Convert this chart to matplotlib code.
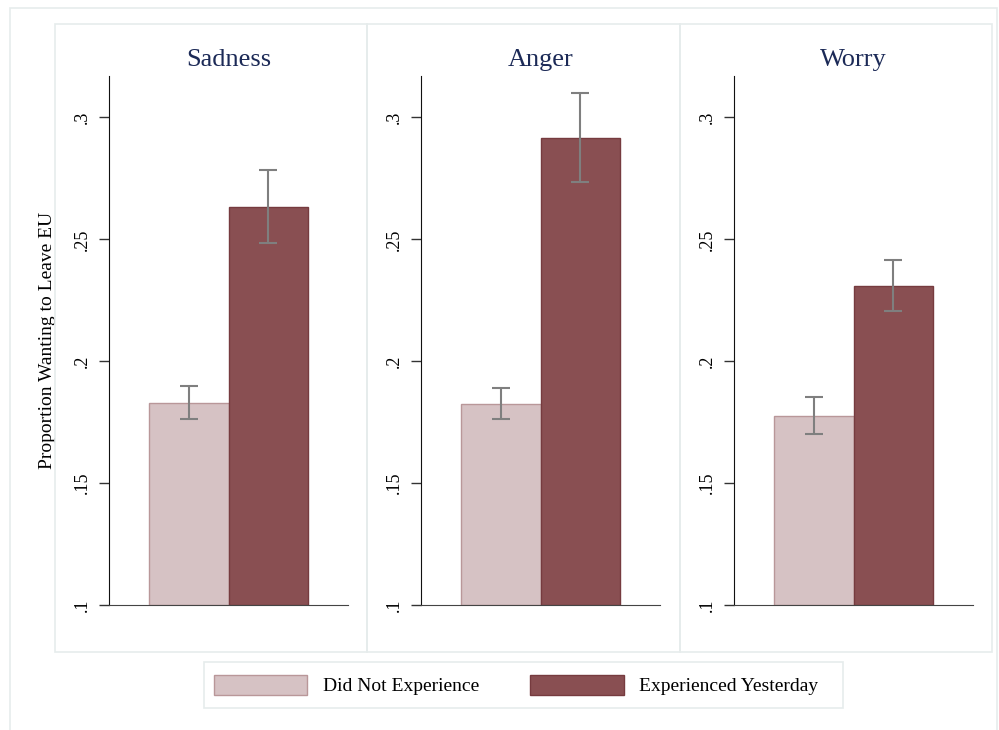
import numpy as np
import matplotlib
matplotlib.use("Agg")
import matplotlib.pyplot as plt
from matplotlib.patches import Rectangle

plt.rcParams['font.family'] = ['Liberation Serif', 'DejaVu Serif']

# data
emotions = ['Sadness', 'Anger', 'Worry']
not_exp = [0.183, 0.1825, 0.1776]
not_exp_lo = [0.1764, 0.1764, 0.1702]
not_exp_hi = [0.1900, 0.1890, 0.1854]
exp_yest = [0.2634, 0.2914, 0.2310]
exp_lo = [0.2483, 0.2737, 0.2207]
exp_hi = [0.2786, 0.3099, 0.2417]
series_labels = ['Did Not Experience', 'Experienced Yesterday']
yticks = [0.1, 0.15, 0.2, 0.25, 0.3]
ytick_labels = ['.1', '.15', '.2', '.25', '.3']

light_fc, light_ec = '#d6c2c4', '#b99799'
dark_fc, dark_ec = '#894f52', '#763b3f'
err_col = '#7f7f7f'
frame_col = '#e6ecec'

W, H = 999, 730
fig = plt.figure(figsize=(W / 100, H / 100), dpi=100)

def px_rect(x0, y0, x1, y1, **kw):
    # rectangle given in image pixel coords (y downwards)
    r = Rectangle((x0 / W, 1 - y1 / H), (x1 - x0) / W, (y1 - y0) / H,
                  transform=fig.transFigure, fill=False, **kw)
    fig.add_artist(r)

# outer frame, panel boxes, legend box
px_rect(10, 8, 997, 740, edgecolor=frame_col, linewidth=1.2)
for x0, x1 in [(55, 367), (367, 680), (680, 992)]:
    px_rect(x0, 24, x1, 652, edgecolor=frame_col, linewidth=1.2)
px_rect(204, 662, 843, 708, edgecolor=frame_col, linewidth=1.2)

lefts = [109, 421, 734]
handles = None
for i, name in enumerate(emotions):
    ax = fig.add_axes([lefts[i] / W, (H - 605) / H, 239 / W, (605 - 76) / H])
    ax.set_facecolor('none')
    b1 = ax.bar(-0.5, not_exp[i] - 0.1, bottom=0.1, width=1.0,
                color=light_fc, edgecolor=light_ec, linewidth=1)
    b2 = ax.bar(0.5, exp_yest[i] - 0.1, bottom=0.1, width=1.0,
                color=dark_fc, edgecolor=dark_ec, linewidth=1)
    handles = [b1, b2]
    ax.errorbar([-0.5], [not_exp[i]],
                yerr=[[not_exp[i] - not_exp_lo[i]], [not_exp_hi[i] - not_exp[i]]],
                fmt='none', ecolor=err_col, elinewidth=1.5, capsize=6.5, capthick=1.5)
    ax.errorbar([0.5], [exp_yest[i]],
                yerr=[[exp_yest[i] - exp_lo[i]], [exp_hi[i] - exp_yest[i]]],
                fmt='none', ecolor=err_col, elinewidth=1.5, capsize=6.5, capthick=1.5)
    ax.set_xlim(-1.5, 1.5)
    ax.set_ylim(0.1, 0.317)
    ax.set_yticks(yticks)
    ax.set_yticklabels(ytick_labels, rotation=90, va='center', fontsize=13)
    ax.set_xticks([])
    ax.tick_params(axis='y', length=7, width=1, color='#333333', pad=6)
    for s in ['top', 'right']:
        ax.spines[s].set_visible(False)
    ax.spines['left'].set_color('#111111')
    ax.spines['bottom'].set_color('#444444')
    ax.set_title(name, fontsize=19, color='#1c2a57', pad=7)
    if i == 0:
        ax.set_ylabel('Proportion Wanting to Leave EU', fontsize=14, labelpad=13)

leg = fig.legend(handles, series_labels, loc='center', ncol=2,
                 bbox_to_anchor=(516 / W, 1 - 685 / H), fontsize=14,
                 handlelength=4.8, handleheight=1.25, handletextpad=0.8,
                 columnspacing=2.65, borderpad=0.3, frameon=False)

fig.savefig('out.png', dpi=100, facecolor='white')
